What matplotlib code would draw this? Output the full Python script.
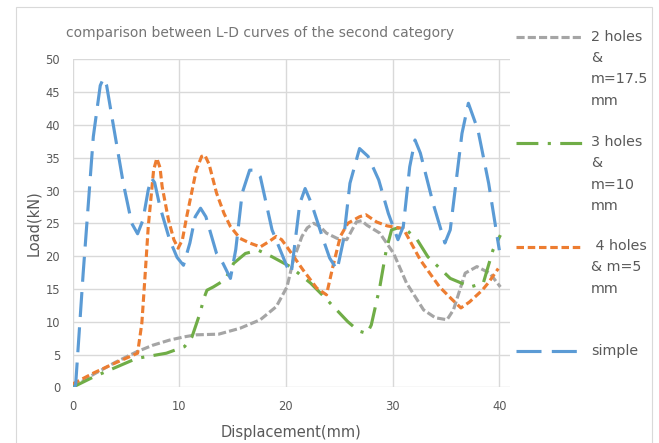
import matplotlib
matplotlib.use('Agg')
import matplotlib.pyplot as plt
from matplotlib.lines import Line2D
from matplotlib.patches import Rectangle

# ---------------- data ----------------
labels = ["2 holes\n&\nm=17.5\nmm", "3 holes\n&\nm=10\nmm", " 4 holes\n& m=5\nmm", "simple"]

x_2holes = [0, 2, 4, 6, 7.5, 9.1, 10.5, 11.6, 13.7, 15.7, 17.6, 19.1, 20.1, 20.7, 21.5, 22.0, 22.6,
            23.2, 23.8, 24.8, 25.7, 26.6, 27.1, 27.6, 28.8, 30.1, 31.3, 32.9, 34.0, 35.1, 35.7, 36.8,
            37.9, 39.1, 40.1]
y_2holes = [0, 2.0, 3.8, 5.4, 6.4, 7.2, 7.7, 8.0, 8.1, 9.0, 10.3, 12.3, 15.3, 19.4, 23.0, 24.3, 25.0,
            24.5, 23.5, 22.7, 22.5, 25.2, 25.4, 24.7, 23.5, 20.4, 15.9, 11.8, 10.6, 10.3, 11.8, 17.4,
            18.4, 17.4, 15.3]

x_3holes = [0, 2, 4, 6, 8.8, 10.5, 11.2, 11.95, 12.3, 12.6, 13.2, 14.3, 15.1, 16.2, 17.4, 18.7, 20.4,
            22.3, 23.7, 25.8, 26.8, 27.6, 28.0, 28.8, 29.4, 29.9, 30.5, 31.3, 32.3, 33.3, 35.4, 37.3,
            38.5, 39.4, 40.1]
y_3holes = [0, 1.6, 3.0, 4.4, 5.2, 6.2, 7.7, 11.3, 13.5, 14.8, 15.3, 16.4, 18.9, 20.4, 20.9, 19.9, 18.4,
            15.9, 13.6, 10.0, 8.6, 8.2, 9.5, 15.3, 20.9, 24.0, 24.3, 24.0, 22.5, 19.9, 16.6, 15.3,
            15.9, 20.9, 23.2]

x_4holes = [0, 2, 4, 6.1, 6.5, 6.8, 7.1, 7.6, 7.9, 8.2, 8.4, 9.0, 9.5, 9.9, 10.3, 10.7, 11.6, 12.1,
            12.4, 12.8, 13.5, 14.2, 14.8, 15.7, 16.6, 17.6, 18.4, 19.1, 19.6, 20.1, 21.6, 22.9, 23.8,
            24.4, 25.1, 25.8, 26.9, 27.5, 28.5, 29.5, 31.0, 32.6, 34.4, 35.5, 36.4, 37.2, 38.4, 39.0,
            39.9]
y_4holes = [0.5, 2.2, 3.7, 5.2, 9.8, 17.0, 24.5, 33.1, 34.9, 33.5, 30.6, 25.5, 22.5, 21.2, 22.5, 26.0,
            33.1, 35.2, 35.4, 34.0, 29.6, 26.5, 24.5, 22.7, 22.0, 21.4, 22.2, 23.0, 22.5, 21.4, 17.9,
            15.1, 14.1, 18.4, 23.0, 25.0, 26.0, 26.3, 25.2, 24.6, 24.2, 19.4, 15.3, 13.5, 12.1, 13.0,
            14.8, 16.0, 18.1]

x_simple = [0.2, 0.3, 1.0, 1.95, 2.6, 2.9, 3.2, 3.8, 4.76, 5.55, 6.1, 6.6, 7.1, 7.4, 7.7, 8.2, 9.1,
            9.8, 10.4, 11.0, 11.5, 12.0, 12.5, 13.5, 14.1, 14.8, 15.3, 15.9, 16.6, 17.1, 17.6, 18.7,
            20.1, 20.5, 21.3, 21.8, 22.4, 23.5, 24.1, 24.8, 25.4, 26.0, 26.9, 27.7, 28.7, 29.6, 30.5,
            31.0, 31.6, 32.1, 32.6, 33.8, 34.9, 35.4, 36.5, 37.1, 38.0, 39.0, 40.0]
y_simple = [0, 0.5, 17.4, 38.2, 46.0, 47.1, 46.0, 40.2, 31.1, 25.0, 23.4, 25.5, 30.1, 31.9, 31.2, 27.5,
            22.5, 19.8, 18.6, 22.0, 26.0, 27.3, 26.0, 20.4, 18.9, 16.6, 21.0, 29.6, 33.1, 33.1, 32.1,
            24.0, 18.4, 17.4, 28.0, 30.3, 28.0, 22.5, 19.7, 17.9, 22.5, 31.1, 36.4, 35.2, 31.6, 26.5,
            22.5, 24.5, 33.6, 37.7, 35.7, 28.0, 22.0, 24.0, 38.7, 43.3, 39.2, 31.1, 20.9]

x_ticks = [0, 10, 20, 30, 40]
y_ticks = [0, 5, 10, 15, 20, 25, 30, 35, 40, 45, 50]

# ---------------- style ----------------
W, H = 659, 443
plt.rcParams['font.family'] = ['DejaVu Sans']
TXT = '#595959'
GRID = '#D9D9D9'
colors = ['#A5A5A5', '#70AD47', '#ED7D31', '#5B9BD5']
dashes = [(2.6, 1.0), (7, 3, 1, 3), (2.4, 1.2), (8, 3.3)]
LW = 2.25

fig = plt.figure(figsize=(W / 100, H / 100), dpi=100)
fig.add_artist(Rectangle((16 / W, -0.05), (652 - 16) / W, (443 - 7) / H + 0.05,
                         transform=fig.transFigure, fill=False, ec=GRID, lw=0.8))

ax = fig.add_axes([72.5 / W, (H - 387.3) / H, (510 - 72.5) / W, (387.3 - 59.3) / H])

series = [(x_2holes, y_2holes), (x_3holes, y_3holes), (x_4holes, y_4holes), (x_simple, y_simple)]
for (xs, ys), c, d in zip(series, colors, dashes):
    ax.plot(xs, ys, color=c, lw=LW, dashes=d, dash_capstyle='butt', solid_joinstyle='round',
            dash_joinstyle='round')

ax.set_xlim(0, 41)
ax.set_ylim(0, 50)
ax.set_xticks(x_ticks)
ax.set_yticks(y_ticks)
ax.grid(True, color=GRID, lw=1.0)
ax.set_axisbelow(True)
for s in ax.spines.values():
    s.set_visible(False)
ax.tick_params(length=0, labelsize=8.3, colors=TXT)
ax.tick_params(axis='y', pad=9)
ax.tick_params(axis='x', pad=9)

ax.set_xlabel('Displacement(mm)', fontsize=10.5, color=TXT, va='center')
ax.xaxis.set_label_coords((291.5 - 72.5) / 437.5, -(433 - 387.3) / 328)
ax.set_ylabel('Load(kN)', fontsize=10.5, color=TXT, va='center')
ax.yaxis.set_label_coords((33.5 - 72.5) / 437.5, 0.5)

fig.text(260 / W, 1 - 33 / H, 'comparison between L-D curves of the second category',
         ha='center', va='center', fontsize=10, color='#757575')

# legend (manual, evenly spaced like the original)
leg_y = [37.3, 142.7, 246.7, 351.0]
for lab, c, d, yy in zip(labels, colors, dashes, leg_y):
    fig.add_artist(Line2D([516 / W, 582 / W], [1 - yy / H, 1 - yy / H], transform=fig.transFigure,
                          color=c, lw=LW, dashes=d, dash_capstyle='butt'))
    fig.text(590.7 / W, 1 - (yy - 7.5) / H, lab, ha='left', va='top', fontsize=10.3, color=TXT,
             linespacing=1.66)

fig.savefig('out.png', dpi=100)
